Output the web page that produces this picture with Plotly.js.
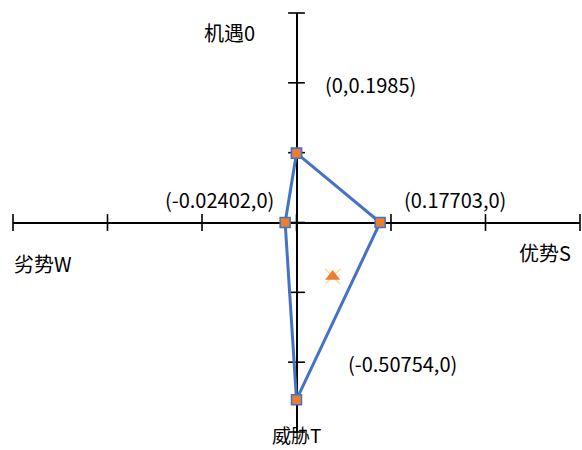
<!DOCTYPE html>
<html>
<head>
<meta charset="utf-8">
<script src="https://cdn.plot.ly/plotly-3.0.1.min.js"></script>
<style>html,body{margin:0;padding:0;background:#fff;}#chart{width:582px;height:450px;}</style>
</head>
<body>
<div id="chart"></div>
<script>
// Strategy quadrilateral vertices (S, W, O, T coordinates)
const vertexX = [0, 0.17703, 0, -0.02402, 0];
const vertexY = [0.1985, 0, -0.50754, 0, 0.1985];
// Centroid-like strategy point
const centerX = [0.0765];
const centerY = [-0.1545];
// Axis tick values
const xTicks = [-0.6, -0.4, -0.2, 0, 0.2, 0.4, 0.6];
const yTicks = [-0.6, -0.4, -0.2, 0, 0.2, 0.4, 0.6];
// Text labels
const pointLabels = ["(0,0.1985)", "(0.17703,0)", "(-0.50754,0)", "(-0.02402,0)"];
const axisLabels = ["机遇0", "优势S", "威胁T", "劣势W"];

const FONT = '"Noto Sans CJK SC", "Noto Sans", sans-serif';
const blue = '#4472C4';
const orange = '#ED7D31';

const traces = [
  { x: xTicks, y: xTicks.map(() => 0), mode: 'markers', type: 'scatter', cliponaxis: false, hoverinfo: 'skip',
    marker: { symbol: 'line-ns', size: 12, line: { color: '#000', width: 1.6 } } },
  { x: yTicks.map(() => 0), y: yTicks, mode: 'markers', type: 'scatter', cliponaxis: false, hoverinfo: 'skip',
    marker: { symbol: 'line-ew', size: 12, line: { color: '#000', width: 1.6 } } },
  { x: vertexX, y: vertexY, mode: 'lines+markers', type: 'scatter', cliponaxis: false,
    line: { color: blue, width: 3 },
    marker: { symbol: 'square', size: 10, color: orange, line: { color: blue, width: 1.5 } } },
  { x: centerX, y: centerY, mode: 'markers', type: 'scatter',
    marker: { symbol: 'x-thin', size: 15, line: { color: '#FFD89A', width: 1.4 } } },
  { x: centerX, y: centerY, mode: 'markers', type: 'scatter',
    marker: { symbol: 'triangle-up', size: 13, color: orange, line: { width: 0 } } }
];

const ann = (text, x, y, yref, size) => ({ text, x, y, xref: 'x', yref: yref || 'y', showarrow: false,
  xanchor: 'center', yanchor: 'middle', borderpad: 0, font: { family: FONT, size: size || 20, color: '#000' } });

const layout = {
  width: 582, height: 450,
  margin: { l: 13, r: 2, t: 13, b: 18 },
  paper_bgcolor: '#fff', plot_bgcolor: '#fff',
  showlegend: false,
  xaxis: { range: [-0.6, 0.6], showgrid: false, showticklabels: false, ticks: '',
    zeroline: true, zerolinecolor: '#000', zerolinewidth: 2, showline: false, fixedrange: true },
  yaxis: { range: [-0.6, 0.6], showgrid: false, showticklabels: false, ticks: '',
    zeroline: true, zerolinecolor: '#000', zerolinewidth: 2, showline: false, fixedrange: true },
  annotations: [
    ann(axisLabels[0], -0.1418, 0.543),
    ann(pointLabels[0], 0.1566, 0.394),
    ann(pointLabels[3], -0.162, 0.0673),
    ann(pointLabels[1], 0.3354, 0.0673),
    ann(axisLabels[3], -0.5365, -0.116),
    ann(axisLabels[1], 0.526, -0.0845),
    ann(pointLabels[2], 0.2233, -0.4026),
    ann(axisLabels[2], 0, -0.006, 'paper', 19)
  ]
};

Plotly.newPlot('chart', traces, layout, { displayModeBar: false, staticPlot: true });
</script>
</body>
</html>
